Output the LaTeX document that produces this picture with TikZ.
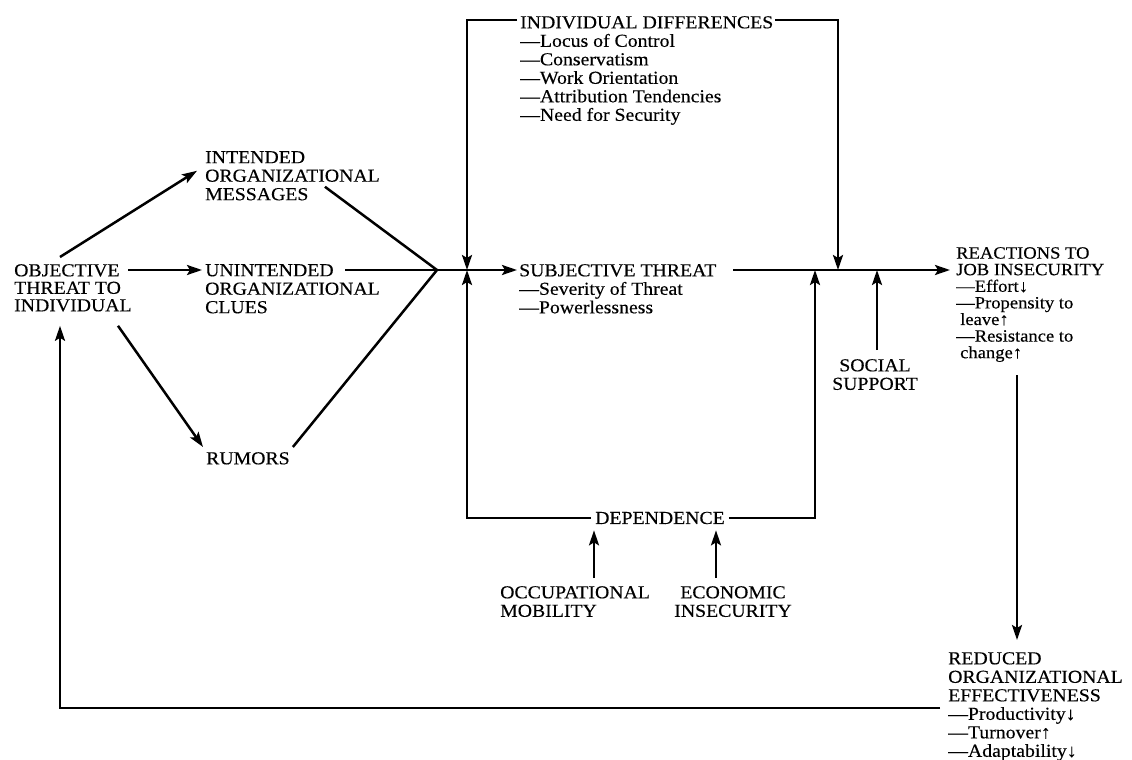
\documentclass[tikz,border=0pt]{standalone}
\usepackage{fontspec}
\setmainfont{Liberation Serif}[FakeStretch=1.08,FakeBold=0.3]
\usetikzlibrary{arrows.meta,positioning}
\tikzset{
  textblock/.style={align=left,anchor=north west,inner sep=0pt,font=\fontsize{18.3}{18.5}\selectfont},
  midblock/.style={textblock,align=center,anchor=north},
  link/.style={line width=2.5pt,->},
  bar/.style={line width=2.5pt}
}

\begin{document}
\begin{tikzpicture}[x=1pt,y=-1pt,>={Stealth[length=15pt,width=10pt,inset=3pt]}]
    \useasboundingbox (0,0) rectangle (1132,760);

    % sources on the left
    \node at (14,264) [textblock,font=\fontsize{18.3}{17.5}\selectfont] (obj) {OBJECTIVE\\THREAT TO\\INDIVIDUAL};
    \node at (205,151) [textblock] (intended) {INTENDED\\ORGANIZATIONAL\\MESSAGES};
    \node at (205,264) [textblock] (unintended) {UNINTENDED\\ORGANIZATIONAL\\CLUES};
    \node at (206,452) [textblock] (rumors) {RUMORS};

    % moderators and core
    \node at (520,16) [textblock] (indiv) {INDIVIDUAL DIFFERENCES\\---Locus of Control\\---Conservatism\\---Work Orientation\\---Attribution Tendencies\\---Need for Security};
    \node at (519,264) [textblock] (subj) {SUBJECTIVE THREAT\\---Severity of Threat\\---Powerlessness};
    \node at (660,518) [textblock,anchor=center] (depend) {DEPENDENCE};
    \node at (500,586) [textblock] (occup) {OCCUPATIONAL\\MOBILITY};
    \node at (733,586) [midblock] (econ) {ECONOMIC\\INSECURITY};
    \node at (875,359) [midblock] (social) {SOCIAL\\SUPPORT};

    % outcomes
    \node at (956,247) [textblock,font=\fontsize{17.2}{16.6}\selectfont] (react) {REACTIONS TO\\JOB INSECURITY\\---Effort↓\\---Propensity to\\\hspace{4pt}leave↑\\---Resistance to\\\hspace{4pt}change↑};
    \node at (948,652) [textblock] (reduced) {REDUCED\\ORGANIZATIONAL\\EFFECTIVENESS\\---Productivity↓\\---Turnover↑\\---Adaptability↓};

    \coordinate (join) at (437,270);
    \coordinate (lefttap) at (467,270);
    \coordinate (deptap) at (815,270);
    \coordinate (righttap) at (838,270);
    \coordinate (soctap) at (877,270);
    \coordinate (occtop) at ([xshift=94pt,yshift=8pt]occup.north west);
    \coordinate (econtop) at ([xshift=-17pt,yshift=8pt]econ.north);
    \coordinate (reacbot) at ([xshift=61pt,yshift=-13pt]react.south west);

    \draw[link] ([xshift=46pt,yshift=7pt]obj.north west) -- ([xshift=-8pt,yshift=5pt]intended.west);
    \draw[link] ([xshift=114pt,yshift=-6pt]obj.north west) -- ([xshift=-3pt,yshift=-6pt]unintended.north west);
    \draw[link] ([xshift=104pt,yshift=-14pt]obj.south west) -- ([xshift=-3pt,yshift=5pt]rumors.north west);

    \draw[bar] ([xshift=-55pt,yshift=-11pt]intended.east) -- (join);
    \draw[bar] ([xshift=140pt,yshift=-6pt]unintended.north west) -- (join);
    \draw[bar] ([xshift=3pt,yshift=5pt]rumors.north east) -- (join);
    \draw[link] (join) -- ([xshift=-2pt,yshift=-6pt]subj.north west);
    \draw[link] ([xshift=214pt,yshift=-6pt]subj.north west) -- ([xshift=-6pt,yshift=-23pt]react.north west);

    \draw[link] ([xshift=-3pt,yshift=-4pt]indiv.north west) -| (lefttap);
    \draw[link] ([xshift=2pt,yshift=-4pt]indiv.north east) -| (righttap);
    \draw[link] ([xshift=-4pt]depend.west) -| (lefttap);
    \draw[link] ([xshift=4pt]depend.east) -| (deptap);
    \draw[link] ([xshift=2pt,yshift=9pt]social.north) -- (soctap);
    \draw[link, shorten >=6pt] (occtop) -- (occtop |- depend.south);
    \draw[link, shorten >=6pt] (econtop) -- (econtop |- depend.south);

    \draw[link, shorten >=12pt] (reacbot) -- (reacbot |- reduced.north);
    \draw[link] ([xshift=-8pt,yshift=-56pt]reduced.north west) -| ([xshift=46pt,yshift=-14pt]obj.south west);
\end{tikzpicture}
\end{document}
